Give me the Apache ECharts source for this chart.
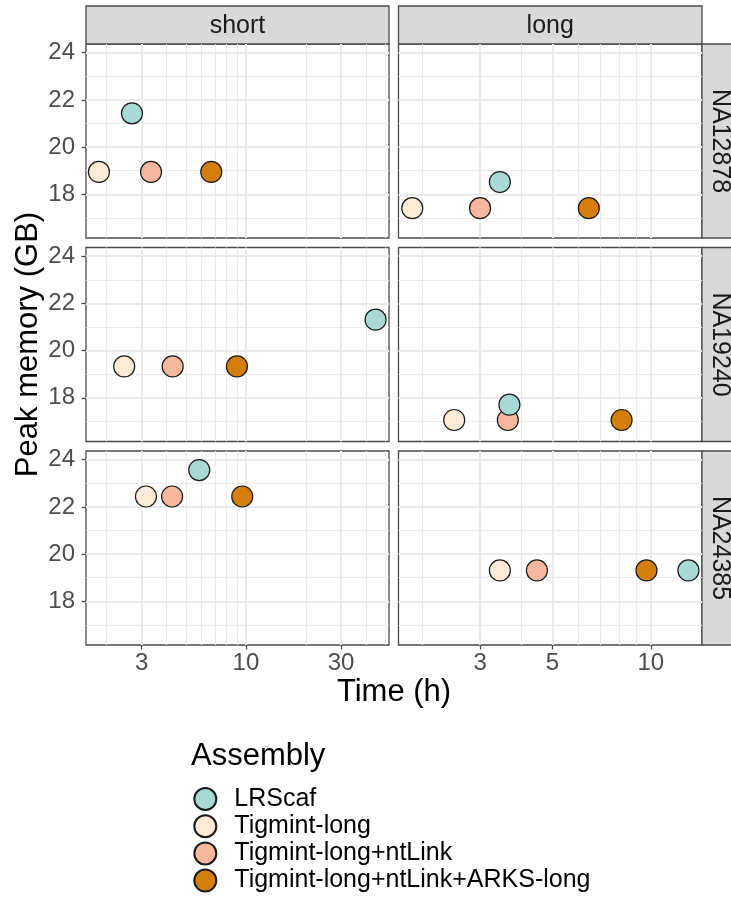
<!DOCTYPE html>
<html>
<head>
<meta charset="utf-8">
<script src="https://cdn.jsdelivr.net/npm/echarts@6/dist/echarts.min.js"></script>
<style>
  html, body { margin: 0; padding: 0; background: #ffffff; }
  #chart { width: 731px; height: 899px; }
</style>
</head>
<body>
<div id="chart"></div>
<script>
// Facets: rows are samples, columns are read types.
const samples = ['NA12878', 'NA19240', 'NA24385'];
const readTypes = ['short', 'long'];
const assemblies = ['LRScaf', 'Tigmint-long', 'Tigmint-long+ntLink', 'Tigmint-long+ntLink+ARKS-long'];
const assemblyColors = ['#a9d9d5', '#fdebd7', '#f5b79d', '#d47e0c'];

// One value per panel, in order: NA12878 short, NA12878 long, NA19240 short,
// NA19240 long, NA24385 short, NA24385 long. Time in hours, memory in GB.
const lrscafTime = [2.68, 3.45, 44.7, 3.69, 5.83, 13.04];
const lrscafMem = [21.43, 18.52, 21.31, 17.71, 23.56, 19.31];
const tigmintTime = [1.83, 1.86, 2.45, 2.50, 3.15, 3.45];
const tigmintMem = [18.95, 17.41, 19.33, 17.06, 22.44, 19.31];
const ntlinkTime = [3.34, 3.00, 4.29, 3.65, 4.26, 4.48];
const ntlinkMem = [18.95, 17.41, 19.33, 17.06, 22.44, 19.31];
const arksTime = [6.70, 6.46, 9.01, 8.14, 9.58, 9.70];
const arksMem = [18.95, 17.41, 19.33, 17.06, 22.44, 19.31];

// Axis breaks
const memTicks = [18, 20, 22, 24];
const memMinorTicks = [17, 19, 21, 23];
const memRange = [16.148, 24.369];
const shortTimeTicks = [3, 10, 30];
const shortTimeMinorTicks = [2, 4, 5, 6, 7, 8, 9, 20, 40, 50];
const shortTimeRange = [1.576, 52.2];
const longTimeTicks = [3, 5, 10];
const longTimeMinorTicks = [2, 4, 6, 7, 8, 9];
const longTimeRange = [1.688, 14.35];

const FONT = 'Liberation Sans';
const BORDER = '#4a4a4a';
const colLeft = [86, 398.5];
const colWidth = [303, 303.5];
const rowTop = [44, 247.5, 451];
const rowHeight = 194;
const stripSize = 38;

const timeTicksByCol = [shortTimeTicks, longTimeTicks];
const timeMinorByCol = [shortTimeMinorTicks, longTimeMinorTicks];
const timeRangeByCol = [shortTimeRange, longTimeRange];

// Assemblies in drawing order (LRScaf on top), paired with their data
const layers = [
  { name: assemblies[1], color: assemblyColors[1], time: tigmintTime, mem: tigmintMem },
  { name: assemblies[2], color: assemblyColors[2], time: ntlinkTime, mem: ntlinkMem },
  { name: assemblies[3], color: assemblyColors[3], time: arksTime, mem: arksMem },
  { name: assemblies[0], color: assemblyColors[0], time: lrscafTime, mem: lrscafMem }
];

const grids = [], xAxes = [], yAxes = [], series = [], graphics = [];

samples.forEach((sample, r) => {
  readTypes.forEach((rt, c) => {
    const p = r * readTypes.length + c;
    grids.push({
      left: colLeft[c], top: rowTop[r], width: colWidth[c], height: rowHeight,
      show: true, backgroundColor: '#ffffff', borderColor: BORDER, borderWidth: 1.3,
      containLabel: false, outerBoundsMode: 'none'
    });
    const isBottom = r === samples.length - 1;
    const isLeft = c === 0;
    // major x breaks (carries the data)
    xAxes.push({
      type: 'log', logBase: 10, gridIndex: p,
      min: timeRangeByCol[c][0], max: timeRangeByCol[c][1],
      axisLine: { show: false },
      axisTick: { show: isBottom, customValues: timeTicksByCol[c], length: 4.5, lineStyle: { color: BORDER, width: 1.3 } },
      axisLabel: { show: isBottom, customValues: timeTicksByCol[c], margin: 6.5, fontSize: 24, color: '#4d4d4d', fontFamily: FONT, formatter: v => String(v) },
      splitLine: { show: true, lineStyle: { color: '#ebebeb', width: 2 } },
      minorTick: { show: false }, minorSplitLine: { show: false }
    });
    // minor x breaks
    xAxes.push({
      type: 'log', logBase: 10, gridIndex: p,
      min: timeRangeByCol[c][0], max: timeRangeByCol[c][1],
      axisLine: { show: false },
      axisTick: { show: false, customValues: timeMinorByCol[c] },
      axisLabel: { show: false, customValues: timeMinorByCol[c] },
      splitLine: { show: true, lineStyle: { color: '#ebebeb', width: 1 } }
    });
    const yMajor = {
      type: 'value', gridIndex: p, position: 'left',
      min: memRange[0], max: memRange[1],
      axisLine: { show: false },
      axisTick: { show: isLeft, customValues: memTicks, length: 4.5, lineStyle: { color: BORDER, width: 1.3 } },
      axisLabel: { show: isLeft, customValues: memTicks, margin: 11, fontSize: 24, color: '#4d4d4d', fontFamily: FONT },
      splitLine: { show: true, lineStyle: { color: '#ebebeb', width: 2 } }
    };
    if (isLeft && r === 1) {
      yMajor.name = 'Peak memory (GB)';
      yMajor.nameLocation = 'middle';
      yMajor.nameGap = 36;
      yMajor.nameTextStyle = { fontSize: 31, color: '#000000', fontFamily: FONT };
    }
    yAxes.push(yMajor);
    yAxes.push({
      type: 'value', gridIndex: p, position: 'left',
      min: memRange[0], max: memRange[1],
      axisLine: { show: false },
      axisTick: { show: false, customValues: memMinorTicks },
      axisLabel: { show: false, customValues: memMinorTicks },
      splitLine: { show: true, lineStyle: { color: '#ebebeb', width: 1 } }
    });

    layers.forEach(layer => {
      series.push({
        type: 'scatter', name: layer.name,
        xAxisIndex: 2 * p, yAxisIndex: 2 * p,
        data: [[layer.time[p], layer.mem[p]]],
        symbol: 'circle', symbolSize: 21,
        itemStyle: { color: layer.color, borderColor: '#1a1a1a', borderWidth: 1.2, opacity: 1 },
        emphasis: { disabled: true }, silent: true
      });
    });
  });
});

// Column strips
readTypes.forEach((rt, c) => {
  graphics.push({
    type: 'rect', shape: { x: colLeft[c], y: rowTop[0] - stripSize, width: colWidth[c], height: stripSize },
    style: { fill: '#d9d9d9', stroke: BORDER, lineWidth: 1.3 }
  });
  graphics.push({
    type: 'text', x: colLeft[c] + colWidth[c] / 2, y: rowTop[0] - stripSize / 2 + 1,
    style: { text: rt, fontSize: 25, fill: '#1a1a1a', fontFamily: FONT, align: 'center', verticalAlign: 'middle' }
  });
});
// Row strips
samples.forEach((s, r) => {
  const x0 = colLeft[1] + colWidth[1];
  graphics.push({
    type: 'rect', shape: { x: x0, y: rowTop[r], width: stripSize, height: rowHeight },
    style: { fill: '#d9d9d9', stroke: BORDER, lineWidth: 1.3 }
  });
  graphics.push({
    type: 'text', x: x0 + stripSize / 2 - 1, y: rowTop[r] + rowHeight / 2, rotation: -Math.PI / 2,
    style: { text: s, fontSize: 25, fill: '#1a1a1a', fontFamily: FONT, align: 'center', verticalAlign: 'middle' }
  });
});
// Shared x title
graphics.push({
  type: 'text', x: colLeft[0] + (colLeft[1] + colWidth[1] - colLeft[0]) / 2, y: 692.5,
  style: { text: 'Time (h)', fontSize: 31, fill: '#000000', fontFamily: FONT, align: 'center', verticalAlign: 'middle' }
});

const chart = echarts.init(document.getElementById('chart'), null, { renderer: 'canvas' });
chart.setOption({
  backgroundColor: '#ffffff',
  animation: false,
  title: {
    text: 'Assembly', left: 191, top: 741, padding: 0,
    textStyle: { fontSize: 31, fontWeight: 'normal', color: '#000000', fontFamily: FONT }
  },
  legend: {
    data: assemblies, orient: 'vertical', left: 193.3, top: 786.5, padding: 0,
    itemWidth: 22, itemHeight: 22, itemGap: 2.2, icon: 'circle', selectedMode: false,
    textStyle: { fontSize: 25, color: '#000000', fontFamily: FONT, padding: [0, 0, 0, 13] }
  },
  grid: grids,
  xAxis: xAxes,
  yAxis: yAxes,
  series: series,
  graphic: { elements: graphics }
});
</script>
</body>
</html>
